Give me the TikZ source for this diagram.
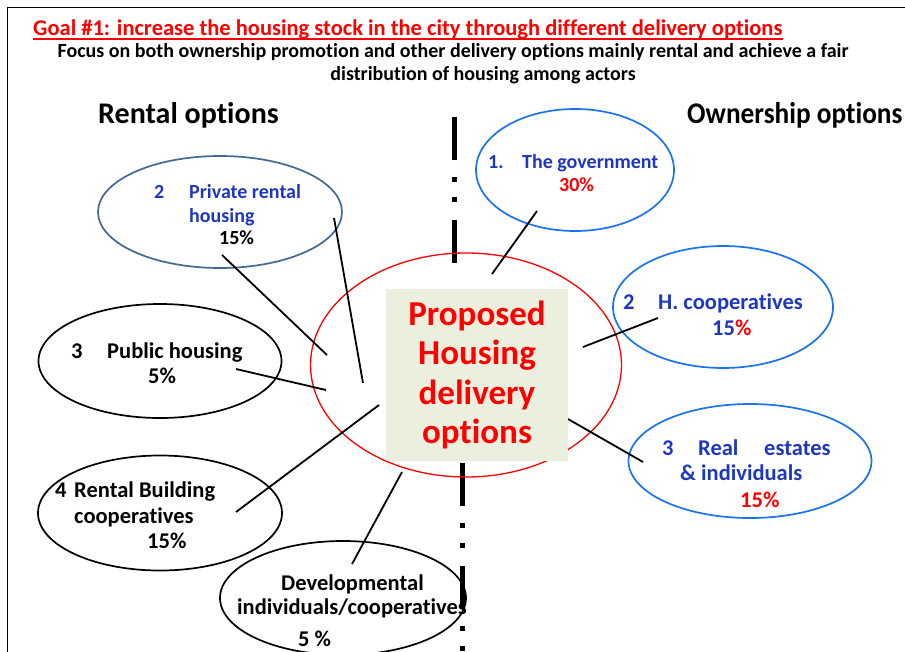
\documentclass[tikz,border=0pt]{standalone}
\usepackage{fontspec}
\usepackage{graphicx}
\setmainfont{Carlito}[Ligatures=NoCommon]
\usetikzlibrary{shapes.geometric}

\definecolor{goalred}{RGB}{255,0,0}
\definecolor{optblue}{RGB}{30,55,190}
\definecolor{ringblue}{RGB}{25,115,240}
\definecolor{ringslate}{RGB}{65,105,150}
\definecolor{boxgreen}{RGB}{235,239,222}

\tikzset{
  option/.style={ellipse, draw, line width=1.7pt, inner sep=0pt},
  link/.style={line width=1.8pt, black},
  divider/.style={line width=5pt, dash pattern=on 43pt off 17pt on 5pt off 15pt on 5pt off 18pt},
  txt/.style={font=\bfseries\fontsize{20}{24}\selectfont, inner sep=0pt, anchor=base west},
  bigtxt/.style={txt, font=\bfseries\fontsize{22.5}{26}\selectfont},
}

\begin{document}
\begin{tikzpicture}[x=1pt,y=-1pt]
   \useasboundingbox (0,0) rectangle (905,651);
   \draw[line width=1pt] (7,665) -- (7,7) -- (915,7);

   % headings
   \node[txt, font=\bfseries\fontsize{22.5}{26}\selectfont, text=goalred] (goal) at (33,35) {Goal \#1: increase the housing stock in the city through different delivery options};
   \draw[goalred, line width=1.6pt] (goal.south west) -- (goal.south east);
   \node[txt, anchor=base, font=\bfseries\fontsize{20}{24}\selectfont] (focus1) at (453,57) {Focus on both ownership promotion and other delivery options mainly rental and achieve a fair};
   \node[txt, anchor=base, font=\bfseries\fontsize{20}{24}\selectfont] (focus2) at (483,80) {distribution of housing among actors};
   \node[txt, font=\bfseries\fontsize{30}{34}\selectfont] (rental) at (98,123) {Rental options};
   \node[txt, font=\bfseries\fontsize{30}{34}\selectfont] (owner) at (687,123) {\scalebox{0.91}[1]{Ownership options}};

   % dividing line
   \coordinate (div1) at (454,117);
   \coordinate (div2) at (454,263);
   \coordinate (div3) at (462,463);
   \coordinate (div4) at (462,670);
   \draw[divider] (div1) -- (div2);
   \draw[divider] (div3) -- (div4);

   % options
   \node[option, ringslate, minimum width=244, minimum height=112] (prh) at (220,212) {};
   \node[option, ringblue, minimum width=198, minimum height=122] (gov) at (575,170) {};
   \node[option, ringblue, minimum width=220, minimum height=122] (hcoop) at (723,307) {};
   \node[option, ringblue, minimum width=243, minimum height=114] (real) at (750,461) {};
   \node[option, black, minimum width=243, minimum height=114] (pub) at (160,361) {};
   \node[option, black, minimum width=244, minimum height=115] (rbc) at (160,513) {};
   \node[option, black, minimum width=246, minimum height=114] (dev) at (343,598) {};
   \node[option, goalred, line width=1.3pt, minimum width=311, minimum height=224] (hub) at (466,365) {};

   % links
   \coordinate (prh-a) at (222,255);  \coordinate (hub-a) at (327,355);
   \coordinate (prh-b) at (334,218);  \coordinate (hub-b) at (363,383);
   \coordinate (pub-a) at (236,369);  \coordinate (hub-c) at (326,390);
   \coordinate (rbc-a) at (236,512);  \coordinate (hub-d) at (379,405);
   \coordinate (dev-a) at (352,564);  \coordinate (hub-e) at (402,472);
   \coordinate (gov-a) at (537,211);  \coordinate (hub-f) at (492,274);
   \coordinate (hcoop-a) at (658,318); \coordinate (hub-g) at (583,347);
   \coordinate (real-a) at (643,462); \coordinate (hub-h) at (568,419);
   \draw[link] (prh-a) -- (hub-a);
   \draw[link] (prh-b) -- (hub-b);
   \draw[link] (pub-a) -- (hub-c);
   \draw[link] (rbc-a) -- (hub-d);
   \draw[link] (dev-a) -- (hub-e);
   \draw[link] (gov-a) -- (hub-f);
   \draw[link] (hcoop-a) -- (hub-g);
   \draw[link] (real-a) -- (hub-h);

   % centre box
   \node[fill=boxgreen, minimum width=182, minimum height=172, align=center, text=goalred,
         font=\bfseries\fontsize{35}{39.5}\selectfont] (core) at (477,375) {Proposed\\Housing\\delivery\\options};

   % option texts
   \node[txt, text=optblue] (prh-n) at (154,198) {2};
   \node[txt, text=optblue] (prh-t1) at (189,198) {Private rental};
   \node[txt, text=optblue] (prh-t2) at (189,222) {housing};
   \node[txt] (prh-p) at (219,244) {15\%};

   \node[txt, text=optblue] (gov-n) at (488,168) {1.};
   \node[txt, text=optblue] (gov-t1) at (522,168) {The government};
   \node[txt, text=goalred] (gov-p) at (559,191) {30\%};

   \node[bigtxt, text=optblue] (hcoop-n) at (623,309) {2};
   \node[bigtxt, text=optblue] (hcoop-t1) at (658,309) {H. cooperatives};
   \node[bigtxt, text=optblue] (hcoop-p) at (712,335) {15{\color{goalred}\%}};

   \node[bigtxt, text=optblue] (real-n) at (662,455) {3};
   \node[bigtxt, text=optblue] (real-t1) at (698,455) {Real};
   \node[bigtxt, text=optblue] (real-t2) at (764,455) {estates};
   \node[bigtxt, text=optblue] (real-t3) at (680,480) {\& individuals};
   \node[bigtxt, text=goalred] (real-p) at (740,507) {15\%};

   \node[bigtxt] (pub-n) at (71,358) {3};
   \node[bigtxt] (pub-t1) at (107,358) {Public housing};
   \node[bigtxt] (pub-p) at (148,383) {5\%};

   \node[bigtxt] (rbc-n) at (55,497) {4};
   \node[bigtxt] (rbc-t1) at (74,497) {Rental Building};
   \node[bigtxt] (rbc-t2) at (74,523) {cooperatives};
   \node[bigtxt] (rbc-p) at (147,548) {15\%};

   \node[bigtxt] (dev-t1) at (281,590) {Developmental};
   \node[bigtxt] (dev-t2) at (237,614) {individuals/cooperatives};
   \node[bigtxt] (dev-p) at (298,646) {5 \%};
\end{tikzpicture}
\end{document}
